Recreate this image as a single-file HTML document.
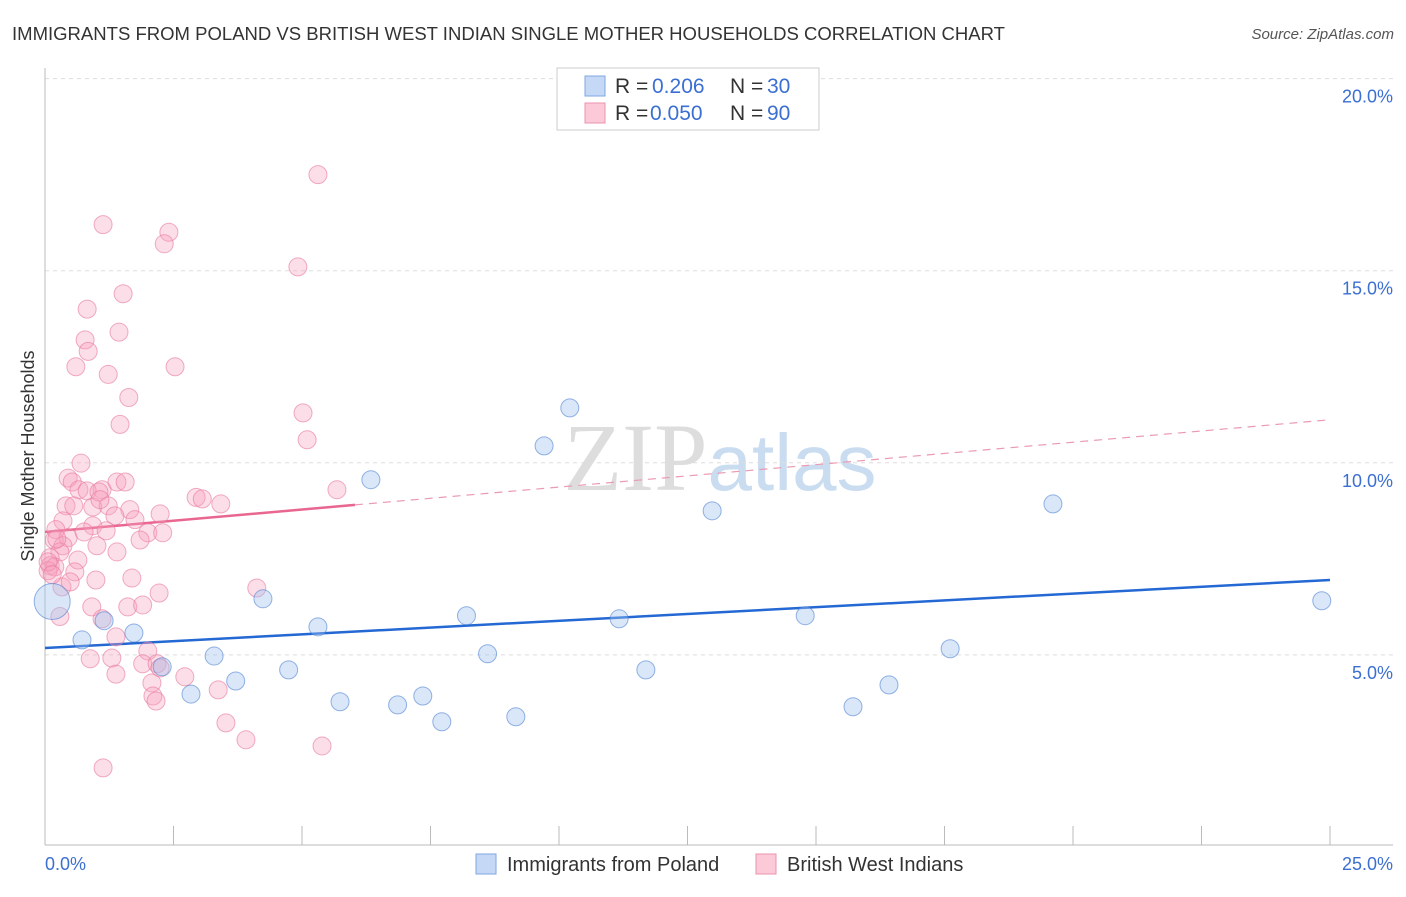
<!DOCTYPE html>
<html><head><meta charset="utf-8"><style>
body{margin:0;background:#fff;font-family:"Liberation Sans",sans-serif;}
</style></head><body>
<svg width="1406" height="892" xmlns="http://www.w3.org/2000/svg" font-family="Liberation Sans, sans-serif">
<text x="12" y="40" font-size="18" fill="#333" textLength="993" lengthAdjust="spacingAndGlyphs">IMMIGRANTS FROM POLAND VS BRITISH WEST INDIAN SINGLE MOTHER HOUSEHOLDS CORRELATION CHART</text>
<text x="1394" y="39" font-size="15" fill="#555" font-style="italic" text-anchor="end">Source: ZipAtlas.com</text>
<text x="720" y="490" font-size="96" fill="#ddd" text-anchor="middle" font-family="Liberation Serif, serif">ZIP<tspan fill="#c9dcf0" font-family="Liberation Sans, sans-serif" font-size="80">atlas</tspan></text>
<g id="grid"></g>
<line x1="45" y1="68" x2="45" y2="845" stroke="#bbb"/>
<line x1="45" y1="845" x2="1393" y2="845" stroke="#bbb"/>
<g id="ticks"></g>
<text x="34" y="456" font-size="18" fill="#333" text-anchor="middle" transform="rotate(-90 34 456)">Single Mother Households</text>
<text x="45" y="870" font-size="18" fill="#3b6fd1">0.0%</text>
<text x="1393" y="870" font-size="18" fill="#3b6fd1" text-anchor="end">25.0%</text>
<g id="lines"></g>
<g id="pts"></g>
<g>
<rect x="557" y="68" width="262" height="62" fill="#fff" stroke="#ccc"/>
<rect x="585" y="76" width="20" height="20" fill="#c5d9f6" stroke="#7fa6e0"/>
<rect x="585" y="103" width="20" height="20" fill="#fbc9d8" stroke="#eb93ae"/>
<text y="93" font-size="21" fill="#333"><tspan x="615">R =</tspan><tspan x="652" fill="#3b6fd1">0.206</tspan><tspan x="730">N =</tspan><tspan x="767" fill="#3b6fd1">30</tspan></text>
<text y="120" font-size="21" fill="#333"><tspan x="615">R =</tspan><tspan x="650" fill="#3b6fd1">0.050</tspan><tspan x="730">N =</tspan><tspan x="767" fill="#3b6fd1">90</tspan></text>
</g>
<g>
<rect x="476" y="854" width="20" height="20" fill="#c5d9f6" stroke="#7fa6e0"/>
<text x="507" y="871" font-size="20" fill="#333">Immigrants from Poland</text>
<rect x="756" y="854" width="20" height="20" fill="#fbc9d8" stroke="#eb93ae"/>
<text x="787" y="871" font-size="20" fill="#333">British West Indians</text>
</g>
</svg>
<script>
const yTicks=[5,10,15,20];
const yTickLabels=["5.0%","10.0%","15.0%","20.0%"];
const xTicks=[0,2.5,5,7.5,10,12.5,15,17.5,20,22.5,25];
const polandX=[0.14,0.72,1.15,1.73,2.28,2.84,3.29,3.71,4.24,4.74,5.31,5.74,6.34,6.86,7.35,7.72,8.2,8.61,9.16,9.71,10.21,11.17,11.69,12.98,14.79,15.72,16.42,17.61,19.61,24.84];
const polandY=[6.39,5.39,5.89,5.57,4.69,3.98,4.97,4.32,6.46,4.61,5.73,3.78,9.56,3.7,3.93,3.26,6.02,5.03,3.39,10.44,11.43,5.94,4.61,8.75,6.02,3.65,4.22,5.16,8.93,6.41];
const bwiX=[1.13,5.31,2.41,2.32,4.92,1.52,0.82,1.44,0.78,0.84,0.6,2.53,1.23,1.63,5.02,1.46,5.1,0.7,0.45,0.53,1.4,1.56,0.66,1.11,0.82,1.05,2.94,3.06,3.42,5.68,0.41,0.56,0.93,1.23,1.65,2.24,1.36,0.93,0.35,0.21,1.19,2.0,2.29,0.18,0.45,0.35,1.01,0.29,1.4,0.64,0.1,0.1,0.19,0.06,0.58,1.69,0.99,0.33,2.22,4.12,0.91,1.61,1.9,1.11,1.38,2.0,0.88,1.3,1.9,2.18,2.24,1.38,2.72,2.08,2.1,2.16,3.37,3.52,3.91,5.39,1.13,0.06,0.14,0.23,0.49,1.75,1.07,0.76,1.85,0.29];
const bwiY=[16.2,17.5,16.0,15.7,15.1,14.4,14.0,13.4,13.2,12.9,12.5,12.5,12.3,11.7,11.3,11.0,10.6,9.99,9.6,9.5,9.5,9.5,9.3,9.3,9.27,9.24,9.1,9.06,8.93,9.3,8.88,8.88,8.85,8.88,8.78,8.67,8.62,8.36,8.49,8.26,8.23,8.18,8.18,7.99,8.05,7.84,7.84,7.68,7.68,7.47,7.53,7.32,7.29,7.19,7.16,7.0,6.95,6.77,6.61,6.74,6.25,6.25,6.3,5.94,5.47,5.1,4.9,4.92,4.77,4.77,4.66,4.5,4.43,4.27,3.93,3.8,4.09,3.23,2.79,2.63,2.06,7.42,7.09,8.02,6.9,8.52,9.04,8.2,7.99,6.0];
const X=v=>45+v/25*1285, Y=v=>847-v*38.42;
const NS="http://www.w3.org/2000/svg";
function mk(t,a,p){const e=document.createElementNS(NS,t);for(const k in a)e.setAttribute(k,a[k]);document.getElementById(p).appendChild(e);return e;}
yTicks.forEach((v,i)=>{
 const l=mk('line',{x1:45,x2:1393,y1:Y(v),y2:Y(v),stroke:'#ddd','stroke-dasharray':'4,4'},'grid');
 
 
 const t=mk('text',{x:1393,y:Y(v)+24,'font-size':18,fill:'#3b6fd1','text-anchor':'end'},'grid');
 t.textContent=yTickLabels[i];
 
 
});
xTicks.forEach(v=>{
 const l=mk('line',{x1:X(v),x2:X(v),y1:826,y2:845,stroke:'#bbb'},'ticks');
 
 
});
const blueTrend=[5.18,6.95], pinkTrend=[8.2,11.12];
let l=mk('line',{x1:X(0),y1:Y(blueTrend[0]),x2:X(25),y2:Y(blueTrend[1]),stroke:'#2468d4','stroke-width':2.5},'lines');


const pAt=v=>pinkTrend[0]+(pinkTrend[1]-pinkTrend[0])*v/25;
l=mk('line',{x1:X(0),y1:Y(pAt(0)),x2:X(6.03),y2:Y(pAt(6.03)),stroke:'#e8668f','stroke-width':2.5},'lines');


l=mk('line',{x1:X(6.03),y1:Y(pAt(6.03)),x2:X(25),y2:Y(pAt(25)),stroke:'#eb9ab3','stroke-width':1.2,'stroke-dasharray':'8,6'},'lines');


bwiX.forEach((x,i)=>{
 const c=mk('circle',{cx:X(x),cy:Y(bwiY[i]),r:9,fill:'rgba(246,160,188,0.35)',stroke:'rgba(232,120,155,0.6)','stroke-width':1},'pts');
 
 
});
polandX.forEach((x,i)=>{
 const c=mk('circle',{cx:X(x),cy:Y(polandY[i]),r:i==0?18:9,fill:'rgba(160,195,240,0.4)',stroke:'rgba(80,130,210,0.6)','stroke-width':1},'pts');
 
 
});
</script>
</body></html>
